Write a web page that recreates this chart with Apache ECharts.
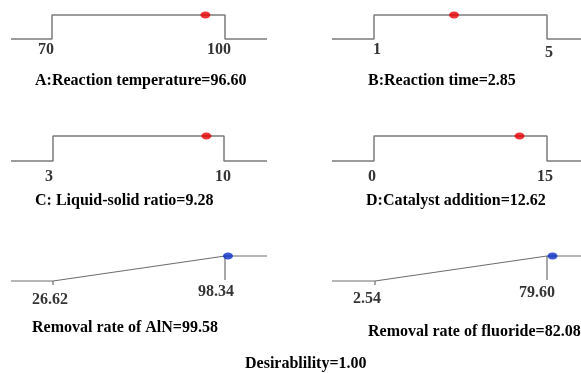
<!DOCTYPE html>
<html>
<head>
<meta charset="utf-8">
<script src="https://cdn.jsdelivr.net/npm/echarts@6/dist/echarts.min.js"></script>
<style>
html,body{margin:0;padding:0;background:#fff;}
#chart{width:581px;height:373px;}
</style>
</head>
<body>
<div id="chart"></div>
<script>
// ---- data ----
const factorNames = ['A:Reaction temperature', 'B:Reaction time', 'C: Liquid-solid ratio', 'D:Catalyst addition'];
const factorLow = [70, 1, 3, 0];
const factorHigh = [100, 5, 10, 15];
const factorValue = [96.60, 2.85, 9.28, 12.62];
const responseNames = ['Removal rate of AlN', 'Removal rate of fluoride'];
const responseLow = [26.62, 2.54];
const responseHigh = [98.34, 79.60];
const responseValue = [99.58, 82.08];
const lowTickLabels = ['70', '1', '3', '0', '26.62', '2.54'];
const highTickLabels = ['100', '5', '10', '15', '98.34', '79.60'];
const desirability = 1.00;

// ---- layout (pixels) ----
const layout = [
  {x0: 11,  xl: 52,  xh: 225, x1: 267, yTop: 15,  yBot: 39,  tl: 35,  tc: 81,  lo: [-6, 11],  ho: [-6, 11]},
  {x0: 332, xl: 374, xh: 547, x1: 581, yTop: 15,  yBot: 39,  tl: 368, tc: 81,  lo: [3, 11],   ho: [2, 14]},
  {x0: 11,  xl: 53,  xh: 224, x1: 267, yTop: 136, yBot: 161, tl: 35,  tc: 201, lo: [-4, 16],  ho: [-1, 16]},
  {x0: 332, xl: 374, xh: 547, x1: 581, yTop: 136, yBot: 161, tl: 366, tc: 201, lo: [-2, 16],  ho: [-2, 16]},
  {x0: 11,  xl: 53,  xh: 225, x1: 267, yTop: 256, yBot: 281, tl: 32,  tc: 328, lo: [-3, 19],  ho: [-9, 11]},
  {x0: 332, xl: 375, xh: 547, x1: 581, yTop: 256, yBot: 281, tl: 368, tc: 332, lo: [-8, 18],  ho: [-10, 12]}
];
const FONT = 'Liberation Serif';
const LINE = {color: '#7b7b7b', width: 1.5};

const grids = [], xAxes = [], yAxes = [], series = [], titles = [];

function addPanel(i, low, high, value, isResponse, name, dotColor) {
  const L = layout[i];
  const per = (high - low) / (L.xh - L.xl);
  const min = low - (L.xl - L.x0) * per;
  const max = high + (L.x1 - L.xh) * per;
  grids.push({left: L.x0, top: L.yTop, width: L.x1 - L.x0, height: L.yBot - L.yTop});
  xAxes.push({gridIndex: i, type: 'value', min: min, max: max, show: false});
  yAxes.push({gridIndex: i, type: 'value', min: 0, max: 1, show: false});
  const base = {xAxisIndex: i, yAxisIndex: i, type: 'line', symbol: 'none', clip: false,
    lineStyle: LINE, silent: true, animation: false};
  if (!isResponse) {
    series.push(Object.assign({}, base, {data: [[min, 0], [low, 0], [low, 1], [high, 1], [high, 0], [max, 0]]}));
  } else {
    series.push(Object.assign({}, base, {data: [[min, 0], [low, 0], [high, 1], [max, 1]], lineStyle: {color: '#6e6e6e', width: 1.2}}));
    series.push(Object.assign({}, base, {data: [[high, 1], [high, 0.04]], lineStyle: {color: '#6e6e6e', width: 1.2}}));
    series.push(Object.assign({}, base, {data: [[low, 0], [low, -0.16]], lineStyle: {color: '#6e6e6e', width: 1.2}}));
  }
  // dot
  series.push({xAxisIndex: i, yAxisIndex: i, type: 'scatter', clip: false, animation: false, silent: true,
    symbol: 'circle', symbolSize: [10, 7], itemStyle: {color: dotColor}, z: 5,
    data: [[value, 1]]});
  // tick labels
  const lbl = {show: true, position: 'inside', color: '#000', fontFamily: FONT, fontWeight: 'bold', fontSize: 16};
  series.push({xAxisIndex: i, yAxisIndex: i, type: 'scatter', clip: false, animation: false, silent: true,
    symbolSize: 0,
    data: [
      {value: [low, 0], label: Object.assign({}, lbl, {offset: L.lo, formatter: lowTickLabels[i]})},
      {value: [high, 0], label: Object.assign({}, lbl, {offset: L.ho, formatter: highTickLabels[i]})}
    ]});
  titles.push({text: name + '=' + value.toFixed(2), left: L.tl, top: L.tc - 9, padding: 0,
    textStyle: {fontFamily: FONT, fontWeight: 'bold', fontSize: 16, color: '#000', lineHeight: 18}});
}

for (let i = 0; i < 4; i++) {
  addPanel(i, factorLow[i], factorHigh[i], factorValue[i], false, factorNames[i], '#e80000');
}
for (let j = 0; j < 2; j++) {
  addPanel(4 + j, responseLow[j], responseHigh[j], responseValue[j], true, responseNames[j], '#0a2ec8');
}
titles.push({text: 'Desirablility=' + desirability.toFixed(2), left: 245, top: 355, padding: 0,
  textStyle: {fontFamily: FONT, fontWeight: 'bold', fontSize: 16, color: '#000', lineHeight: 18}});

const chart = echarts.init(document.getElementById('chart'), null, {renderer: 'canvas'});
chart.setOption({
  backgroundColor: '#fff',
  animation: false,
  title: titles,
  grid: grids,
  xAxis: xAxes,
  yAxis: yAxes,
  series: series
});
</script>
</body>
</html>
